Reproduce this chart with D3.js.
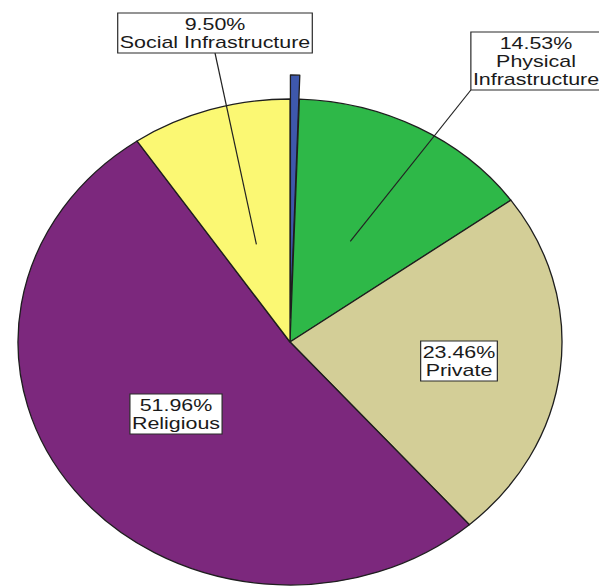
<!DOCTYPE html>
<html>
<head>
<meta charset="utf-8">
<script src="https://cdn.jsdelivr.net/npm/d3@7/dist/d3.min.js"></script>
<style>
  html, body { margin: 0; padding: 0; background: #fff; }
  svg { display: block; }
</style>
</head>
<body>
<svg id="chart" width="599" height="587"></svg>
<script>
// Land use shares (%), clockwise from 12 o'clock
const categories = ["Other", "Physical Infrastructure", "Private", "Religious", "Social Infrastructure"];
const values = [0.55, 14.53, 23.46, 51.96, 9.50];
const percentLabels = ["", "14.53%", "23.46%", "51.96%", "9.50%"];
const colors = ["#3e58ac", "#2eb848", "#d3ce97", "#7c287d", "#fbf873"];

// label text lines per slice (empty = unlabeled)
const labelLines = [
  [],
  ["14.53%", "Physical", "Infrastructure"],
  ["23.46%", "Private"],
  ["51.96%", "Religious"],
  ["9.50%", "Social Infrastructure"]
];

// layout
const cx = 290, cy = 342, ry = 243, rx = 272;
const sx = rx / ry;           // horizontal stretch of the pie
const explodeIdx = 0, explodeDist = 24;
const fontSize = 16, textScaleX = 1.34, lineH = 18;
// label box centres (page coords); null = placed at slice centroid
const labelPos = [null, [536, 61], [459, 361], [176, 414], [215, 33]];
const leader = [false, true, false, false, true];
const centroidFrac = [0, 0.47, 0.63, 0.53, 0.42];

const svg = d3.select("#chart");

const pie = d3.pie().sort(null).value(d => d)(values);
const arc = d3.arc().innerRadius(0).outerRadius(ry);

const pieG = svg.append("g")
  .attr("transform", `translate(${cx},${cy}) scale(${sx},1)`);

pieG.selectAll("path.slice")
  .data(pie)
  .join("path")
  .attr("class", "slice")
  .attr("d", arc)
  .attr("transform", (d, i) => {
    if (i !== explodeIdx) return null;
    const a = (d.startAngle + d.endAngle) / 2;
    return `translate(${Math.sin(a) * explodeDist / sx},${-Math.cos(a) * explodeDist})`;
  })
  .attr("fill", (d, i) => colors[i])
  .attr("stroke", "#1e1e1e")
  .attr("stroke-width", 1.3)
  .attr("vector-effect", "non-scaling-stroke")
  .attr("stroke-linejoin", "round");

// point inside a slice at a fraction of the radius, in page coords
function slicePoint(d, f) {
  const a = (d.startAngle + d.endAngle) / 2;
  return [cx + Math.sin(a) * ry * f * sx, cy - Math.cos(a) * ry * f];
}

const labelG = svg.append("g");

pie.forEach((d, i) => {
  const lines = labelLines[i];
  if (!lines.length) return;
  const anchor = slicePoint(d, centroidFrac[i]);
  const pos = labelPos[i] || anchor;
  const n = lines.length;
  const boxH = n * lineH + 4;

  const g = labelG.append("g")
    .attr("transform", `translate(${pos[0]},${pos[1]}) scale(${textScaleX},1)`);
  const rect = g.append("rect")
    .attr("fill", "#fff")
    .attr("stroke", "#2a2a2a")
    .attr("stroke-width", 1.2)
    .attr("vector-effect", "non-scaling-stroke");
  const texts = g.selectAll("text")
    .data(lines)
    .join("text")
    .attr("x", 0)
    .attr("y", (t, k) => (k - (n - 1) / 2) * lineH + 6)
    .attr("text-anchor", "middle")
    .attr("font-family", "'Liberation Sans', Arial, sans-serif")
    .attr("font-size", fontSize)
    .attr("fill", "#1a1a1a")
    .text(t => t);
  let w = 0;
  texts.each(function () { w = Math.max(w, this.getComputedTextLength()); });
  const boxW = w + 3;
  rect.attr("x", -boxW / 2).attr("y", -boxH / 2)
    .attr("width", boxW).attr("height", boxH);

  if (leader[i]) {
    // leader from box edge to the slice interior
    const bw = boxW * textScaleX;
    let start;
    if (i === 1) start = [pos[0] - bw / 2, pos[1] + boxH / 2];
    else start = [pos[0], pos[1] + boxH / 2];
    labelG.insert("line", ":first-child")
      .attr("x1", start[0]).attr("y1", start[1])
      .attr("x2", anchor[0]).attr("y2", anchor[1])
      .attr("stroke", "#222")
      .attr("stroke-width", 1.2);
  }
});
</script>
</body>
</html>
